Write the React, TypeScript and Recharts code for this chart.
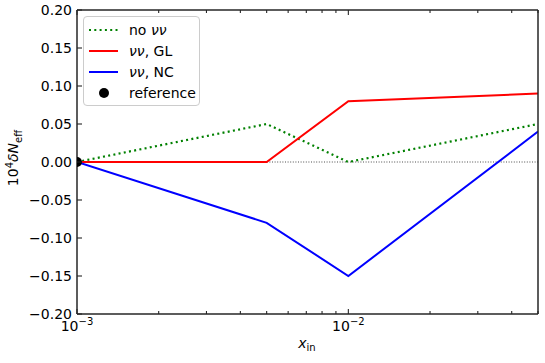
import { ComposedChart, Line, Scatter, XAxis, YAxis, ReferenceLine } from 'recharts';

// x_in values where the runs were done
const xIn = [0.001, 0.005, 0.01, 0.05];
const noNuNu = [0, 0.05, 0, 0.05];
const nuNuGL = [0, 0, 0.08, 0.09];
const nuNuNC = [0, -0.08, -0.15, 0.04];
const referencePoint = [{ x: 0.001, y: 0 }];

const xTicks = [
  0.001, 0.002, 0.003, 0.004, 0.005, 0.006, 0.007, 0.008, 0.009,
  0.01, 0.02, 0.03, 0.04, 0.05,
];
const yTicks = [-0.2, -0.15, -0.1, -0.05, 0, 0.05, 0.1, 0.15, 0.2];

const data = xIn.map((x, i) => ({ x, noNuNu: noNuNu[i], gl: nuNuGL[i], nc: nuNuNC[i] }));

const FONT = 'DejaVu Sans, sans-serif';
const SPINE = '#262626';

const isMajor = (v: number) => {
  const l = Math.log10(v);
  return Math.abs(l - Math.round(l)) < 1e-6;
};

const XTickBottom = (props: any) => {
  const { x, y, payload } = props;
  const v = payload.value;
  const major = isMajor(v);
  return (
    <g>
      <line x1={x} x2={x} y1={y} y2={y - (major ? 5 : 3)} stroke={SPINE} strokeWidth={1.1} />
      {major && (
        <text x={x} y={y + 17} textAnchor="middle" fontFamily={FONT} fontSize={14} fill="#000">
          <tspan>10</tspan>
          <tspan dy={-6} fontSize={10}>{`\u2212${Math.round(-Math.log10(v))}`}</tspan>
        </text>
      )}
    </g>
  );
};

const XTickTop = (props: any) => {
  const { x, y, payload } = props;
  const major = isMajor(payload.value);
  return <line x1={x} x2={x} y1={y} y2={y + (major ? 5 : 3)} stroke={SPINE} strokeWidth={1.1} />;
};

const YTickLeft = (props: any) => {
  const { x, y, payload } = props;
  const label = payload.value.toFixed(2).replace('-', '\u2212');
  return (
    <g>
      <line x1={x} x2={x + 5} y1={y} y2={y} stroke={SPINE} strokeWidth={1.1} />
      <text x={x - 5} y={y} dy={5} textAnchor="end" fontFamily={FONT} fontSize={14} fill="#000">
        {label}
      </text>
    </g>
  );
};

const YTickRight = (props: any) => {
  const { x, y } = props;
  return <line x1={x} x2={x - 5} y1={y} y2={y} stroke={SPINE} strokeWidth={1.1} />;
};

// matplotlib clips the marker at the axes edge, so only the right half shows
const HalfDot = (props: any) => {
  const { cx, cy } = props;
  const r = 5;
  return <path d={`M ${cx} ${cy - r} A ${r} ${r} 0 0 1 ${cx} ${cy + r} Z`} fill="#000" />;
};

const legendItems = [
  { label: 'no', nu: true, suffix: '', kind: 'dotted', color: '#008000' },
  { label: '', nu: true, suffix: ', GL', kind: 'line', color: '#ff0000' },
  { label: '', nu: true, suffix: ', NC', kind: 'line', color: '#0000ff' },
  { label: 'reference', nu: false, suffix: '', kind: 'dot', color: '#000' },
];

const LegendBox = () => (
  <div
    style={{
      position: 'absolute',
      left: 83,
      top: 16,
      width: 115,
      height: 86,
      border: '1px solid #cccccc',
      borderRadius: 4,
      background: 'rgba(255,255,255,0.8)',
      fontFamily: FONT,
      fontSize: 14,
      paddingTop: 2,
    }}
  >
    {legendItems.map((it, i) => (
      <div key={i} style={{ display: 'flex', alignItems: 'center', height: 21 }}>
        <svg width={45} height={12} style={{ flex: 'none' }}>
          {it.kind === 'dot' ? (
            <circle cx={20} cy={6} r={5} fill={it.color} />
          ) : (
            <line
              x1={5}
              x2={34}
              y1={6}
              y2={6}
              stroke={it.color}
              strokeWidth={2}
              strokeDasharray={it.kind === 'dotted' ? '2 3.3' : undefined}
            />
          )}
        </svg>
        <span style={{ whiteSpace: 'nowrap' }}>
          {it.label}
          {it.label && it.nu ? ' ' : ''}
          {it.nu && <i>νν</i>}
          {it.suffix}
        </span>
      </div>
    ))}
  </div>
);

const App = () => {
  return (
    <div style={{ position: 'absolute', left: 0, top: 0, width: 545, height: 363, background: '#fff' }}>
      <ComposedChart width={545} height={363} data={data} margin={{ top: 9, right: 6, bottom: 48, left: 76 }}>
        <XAxis
          dataKey="x"
          type="number"
          scale="log"
          domain={[0.001, 0.05]}
          allowDataOverflow
          ticks={xTicks}
          tick={<XTickBottom />}
          tickLine={false}
          tickSize={0}
          tickMargin={0}
          height={1}
          axisLine={{ stroke: SPINE, strokeWidth: 1.5 }}
          interval={0}
        />
        <XAxis
          xAxisId="top"
          orientation="top"
          dataKey="x"
          type="number"
          scale="log"
          domain={[0.001, 0.05]}
          allowDataOverflow
          ticks={xTicks}
          tick={<XTickTop />}
          tickLine={false}
          tickSize={0}
          tickMargin={0}
          height={1}
          axisLine={{ stroke: SPINE, strokeWidth: 1.5 }}
          interval={0}
        />
        <YAxis
          type="number"
          domain={[-0.2, 0.2]}
          ticks={yTicks}
          tick={<YTickLeft />}
          tickLine={false}
          tickSize={0}
          tickMargin={0}
          width={1}
          axisLine={{ stroke: SPINE, strokeWidth: 1.5 }}
          interval={0}
        />
        <YAxis
          yAxisId="right"
          orientation="right"
          type="number"
          domain={[-0.2, 0.2]}
          ticks={yTicks}
          tick={<YTickRight />}
          tickLine={false}
          tickSize={0}
          tickMargin={0}
          width={1}
          axisLine={{ stroke: SPINE, strokeWidth: 1.5 }}
          interval={0}
        />
        <ReferenceLine y={0} stroke="#000" strokeWidth={0.7} strokeDasharray="1 1.6" />
        <Line dataKey="noNuNu" stroke="#008000" strokeWidth={2.2} strokeDasharray="2 3.3" dot={false} isAnimationActive={false} />
        <Line dataKey="gl" stroke="#ff0000" strokeWidth={2} dot={false} isAnimationActive={false} />
        <Line dataKey="nc" stroke="#0000ff" strokeWidth={2} dot={false} isAnimationActive={false} />
        <Scatter data={referencePoint} dataKey="y" shape={<HalfDot />} isAnimationActive={false} />
      </ComposedChart>
      <LegendBox />
      <div
        style={{
          position: 'absolute',
          left: 14,
          top: 158,
          transform: 'translate(-50%, -50%) rotate(-90deg)',
          fontFamily: FONT,
          fontSize: 14,
          whiteSpace: 'nowrap',
        }}
      >
        10<sup style={{ fontSize: 10 }}>4</sup>
        <i>δN</i>
        <sub style={{ fontSize: 10 }}>eff</sub>
      </div>
      <div
        style={{
          position: 'absolute',
          left: 307,
          top: 344,
          transform: 'translate(-50%, -50%)',
          fontFamily: FONT,
          fontSize: 14,
          whiteSpace: 'nowrap',
        }}
      >
        <i>x</i>
        <sub style={{ fontSize: 10 }}>in</sub>
      </div>
    </div>
  );
};

export default App;
